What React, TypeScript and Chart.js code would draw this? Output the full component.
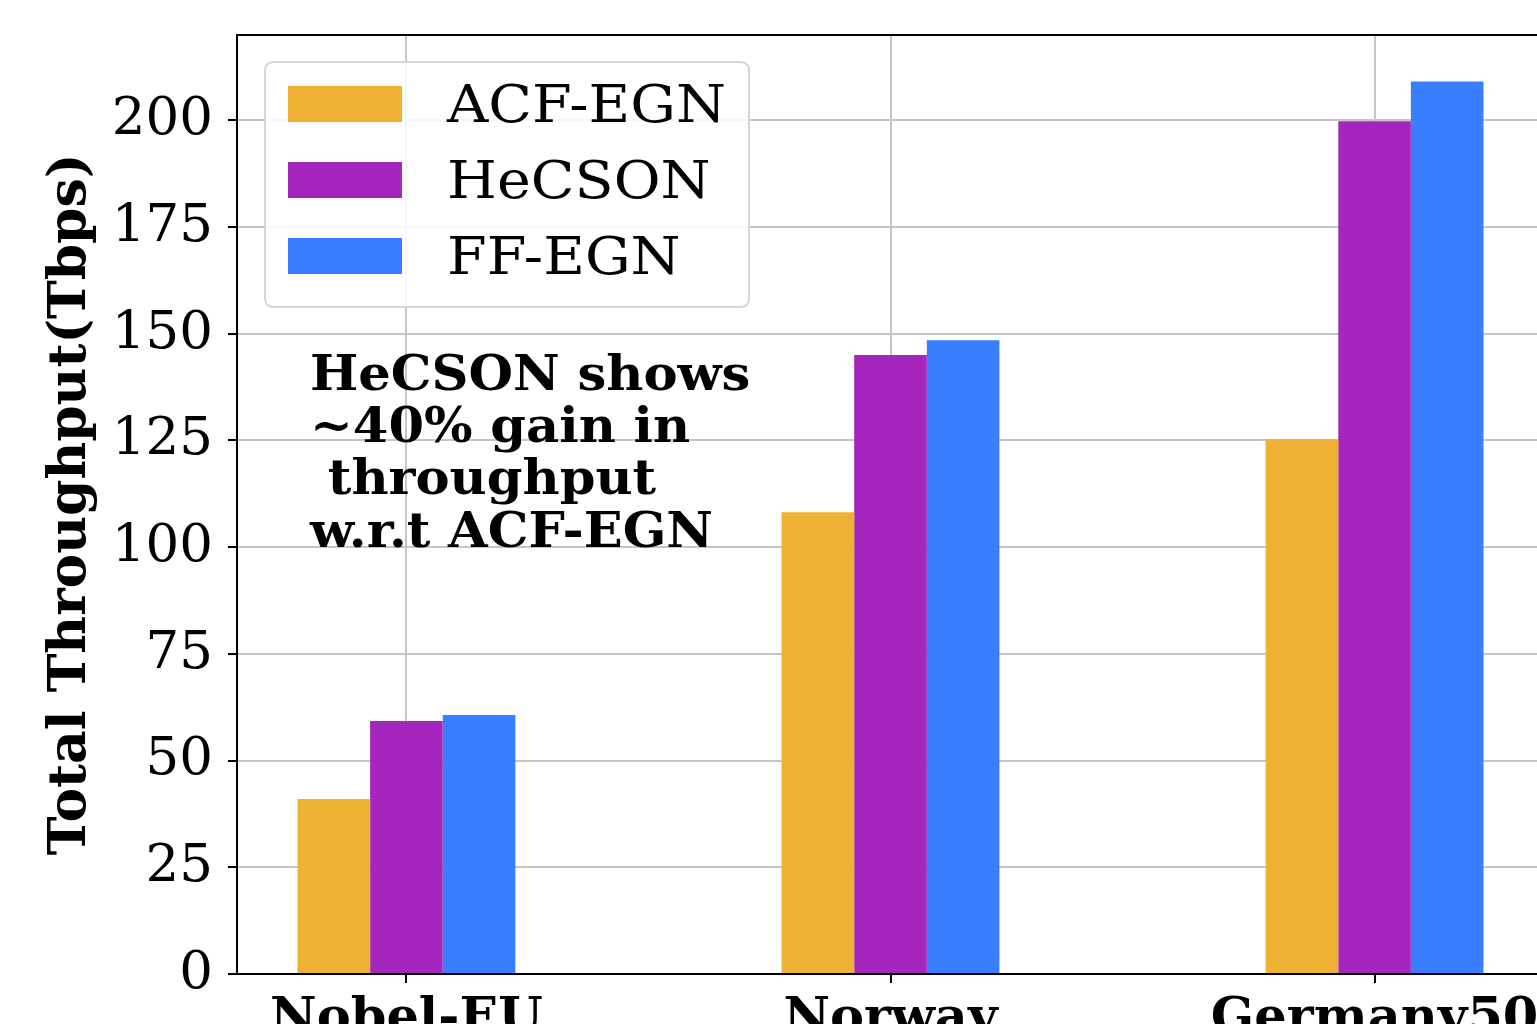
import React, { useEffect, useRef } from 'react';
import { Chart, registerables } from 'chart.js';

Chart.register(...registerables);

const categories = ['Nobel-EU', 'Norway', 'Germany50'];
const seriesNames = ['ACF-EGN', 'HeCSON', 'FF-EGN'];
const acfEgn = [41, 108.2, 125.3];
const hecson = [59.3, 145, 199.8];
const ffEgn = [60.7, 148.5, 209.1];
const yTickValues = [0, 25, 50, 75, 100, 125, 150, 175, 200];
const annotationLines = ['HeCSON shows', '~40% gain in', ' throughput', 'w.r.t ACF-EGN'];
const seriesColors = ['#EFB134', '#A526BD', '#387EFE'];

const CANVAS_W = 1544;
const CANVAS_H = 1100;
const SERIF = "'DejaVu Serif', serif";
const GRID_COLOR = '#c6c6c6';

const overlayPlugin = {
  id: 'overlay',
  afterDraw(chart: any) {
    const ctx = chart.ctx as CanvasRenderingContext2D;
    const area = chart.chartArea;
    ctx.save();
    // top and right spines
    ctx.strokeStyle = '#000';
    ctx.lineWidth = 2;
    ctx.beginPath();
    ctx.moveTo(area.left - 1, area.top);
    ctx.lineTo(area.right, area.top);
    ctx.lineTo(area.right, area.bottom);
    ctx.stroke();

    // legend
    const lx = area.left + 28, ly = area.top + 27, lw = 484, lh = 245, r = 9;
    ctx.beginPath();
    ctx.moveTo(lx + r, ly);
    ctx.lineTo(lx + lw - r, ly);
    ctx.quadraticCurveTo(lx + lw, ly, lx + lw, ly + r);
    ctx.lineTo(lx + lw, ly + lh - r);
    ctx.quadraticCurveTo(lx + lw, ly + lh, lx + lw - r, ly + lh);
    ctx.lineTo(lx + r, ly + lh);
    ctx.quadraticCurveTo(lx, ly + lh, lx, ly + lh - r);
    ctx.lineTo(lx, ly + r);
    ctx.quadraticCurveTo(lx, ly, lx + r, ly);
    ctx.closePath();
    ctx.fillStyle = 'rgba(255,255,255,0.85)';
    ctx.fill();
    ctx.strokeStyle = '#d6d6d6';
    ctx.lineWidth = 2;
    ctx.stroke();

    ctx.textAlign = 'left';
    ctx.textBaseline = 'alphabetic';
    for (let i = 0; i < seriesNames.length; i++) {
      const y0 = ly + 24 + i * 76;
      ctx.fillStyle = seriesColors[i];
      ctx.fillRect(lx + 23, y0, 114, 36);
      ctx.save();
      ctx.translate(lx + 182, y0 + 36);
      ctx.scale(1.1, 1);
      ctx.font = `52px ${SERIF}`;
      ctx.fillStyle = '#000';
      ctx.fillText(seriesNames[i], 0, 0);
      ctx.restore();
    }

    // annotation
    for (let i = 0; i < annotationLines.length; i++) {
      ctx.save();
      ctx.translate(area.left + 73, 390 + i * 52.2);
      ctx.scale(1.065, 1);
      ctx.font = `bold 48px ${SERIF}`;
      ctx.fillStyle = '#000';
      ctx.fillText(annotationLines[i], 0, 0);
      ctx.restore();
    }
    ctx.restore();
  },
};

export default function App() {
  const canvasRef = useRef<HTMLCanvasElement | null>(null);

  useEffect(() => {
    const canvas = canvasRef.current;
    if (!canvas) return;
    const seriesValues = [acfEgn, hecson, ffEgn];
    const chart = new Chart(canvas, {
      type: 'bar',
      data: {
        datasets: seriesNames.map((name, si) => ({
          label: name,
          data: seriesValues[si].map((v, i) => ({ x: i, y: v })),
          backgroundColor: seriesColors[si],
          borderWidth: 0,
          categoryPercentage: 0.45,
          barPercentage: 1.0,
        })),
      },
      options: {
        animation: false,
        responsive: false,
        devicePixelRatio: 1,
        layout: { padding: { top: 35, left: 0, right: 0, bottom: 0 } },
        plugins: {
          legend: { display: false },
          tooltip: { enabled: false },
        },
        scales: {
          x: {
            type: 'linear',
            min: -0.35,
            max: 2.35,
            offset: false,
            z: 1,
            afterBuildTicks: (scale: any) => {
              scale.ticks = categories.map((_, i) => ({ value: i }));
            },
            afterFit: (scale: any) => {
              scale.height = CANVAS_H - 974;
              scale.paddingLeft = 0;
              scale.paddingRight = 0;
            },
            grid: {
              offset: false,
              color: GRID_COLOR,
              lineWidth: 2,
              tickColor: '#000',
              tickLength: 9,
              tickWidth: 2,
            },
            border: { color: '#000', width: 2 },
            ticks: {
              autoSkip: false,
              maxRotation: 0,
              padding: 6,
              color: '#000',
              font: { family: SERIF, size: 51, weight: 'bold' },
              callback: (v: any) => categories[v] ?? '',
            },
          },
          y: {
            type: 'linear',
            min: 0,
            max: 220,
            z: 1,
            afterBuildTicks: (scale: any) => {
              scale.ticks = yTickValues.map((v) => ({ value: v }));
            },
            afterFit: (scale: any) => {
              scale.width = 237;
              scale.paddingTop = 0;
              scale.paddingBottom = 0;
            },
            grid: {
              color: GRID_COLOR,
              lineWidth: 2,
              tickColor: '#000',
              tickLength: 9,
              tickWidth: 2,
            },
            border: { color: '#000', width: 2 },
            ticks: {
              padding: 15,
              color: '#000',
              font: { family: SERIF, size: 53 },
            },
            title: {
              display: true,
              text: 'Total Throughput(Tbps)',
              color: '#000',
              font: { family: SERIF, size: 52, weight: 'bold' },
              padding: { top: 40, bottom: 0 },
            },
          },
        },
      },
      plugins: [overlayPlugin],
    } as any);
    return () => chart.destroy();
  }, []);

  return (
    <div style={{ position: 'fixed', left: 0, top: 0, width: CANVAS_W, height: CANVAS_H, background: '#fff' }}>
      <canvas ref={canvasRef} width={CANVAS_W} height={CANVAS_H} style={{ display: 'block' }} />
    </div>
  );
}
